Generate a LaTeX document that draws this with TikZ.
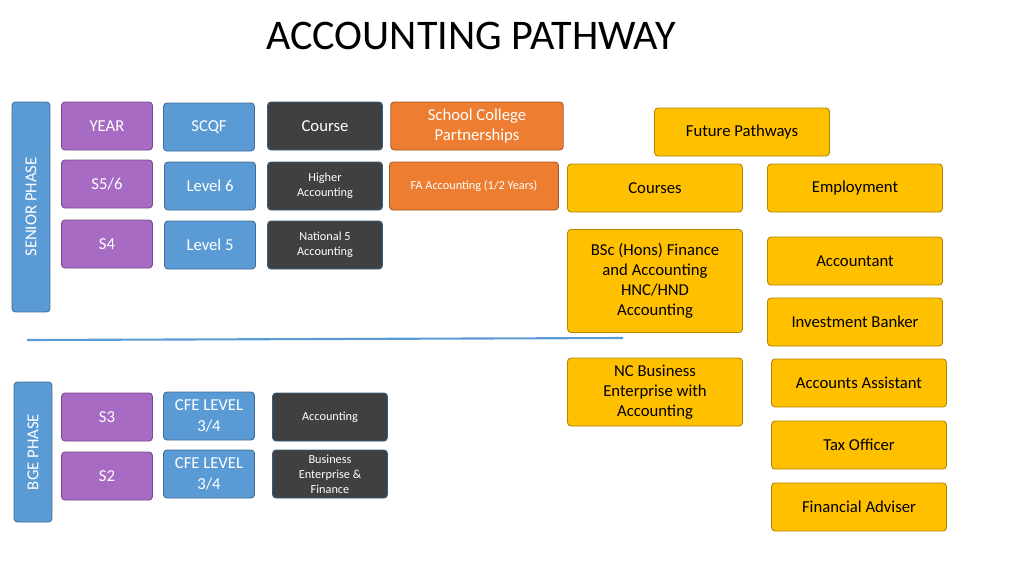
\documentclass[tikz,border=0pt]{standalone}
\usepackage{fontspec}
\setmainfont{Carlito}
\definecolor{phaseblue}{HTML}{5B9BD5}
\definecolor{yearpurple}{HTML}{A86BC4}
\definecolor{coursegrey}{HTML}{404040}
\definecolor{partorange}{HTML}{ED7D31}
\definecolor{pathgold}{HTML}{FFC000}
\tikzset{
  box/.style={draw, rounded corners=2pt, line width=0.5pt, align=center, inner sep=1pt, font=\fontsize{9.5}{11.5}\selectfont},
  phase/.style={box, fill=phaseblue, draw=phaseblue!70!black, text=white, minimum height=0.76cm},
  yearbox/.style={box, fill=yearpurple, draw=yearpurple!70!black, text=white, minimum width=1.82cm, minimum height=0.96cm},
  scqfbox/.style={box, fill=phaseblue, draw=phaseblue!70!black, text=white, minimum width=1.82cm, minimum height=0.96cm},
  coursebox/.style={box, fill=coursegrey, draw=phaseblue!60!black, text=white, minimum width=2.3cm, minimum height=0.96cm},
  partbox/.style={box, fill=partorange, draw=partorange!70!black, text=white, minimum width=3.45cm, minimum height=0.96cm},
  pathbox/.style={box, fill=pathgold, draw=pathgold!70!black, text=black, minimum width=3.5cm, minimum height=0.96cm},
  small/.style={font=\fontsize{7}{8.6}\selectfont}
}
\begin{document}
\begin{tikzpicture}[x=0.02cm,y=-0.02cm]
\useasboundingbox (0,0) rectangle (1024,576);
% title
\node (title) at (471,36) {\fontsize{24}{28}\selectfont ACCOUNTING PATHWAY};
% phases
\node[phase, minimum width=4.2cm, rotate=90] (senior) at (31,207) {SENIOR PHASE};
\node[phase, minimum width=2.8cm, rotate=90] (bge) at (33,452) {BGE PHASE};
\draw[phaseblue, line width=1.2pt] (27,340) -- (623,338);
% headers
\node[yearbox] (year) at (107,126) {YEAR};
\node[scqfbox] (scqf) at (209,127) {SCQF};
\node[coursebox] (course) at (325,126) {Course};
\node[partbox] (partner) at (477,126) {School College\\Partnerships};
\node[pathbox] (future) at (742,132) {Future Pathways};
% senior rows
\node[yearbox] (s56) at (107,184) {S5/6};
\node[scqfbox] (lvl6) at (210,186) {Level 6};
\node[coursebox, small] (higher) at (325,186) {Higher\\Accounting};
\node[partbox, small, minimum width=3.38cm] (fa) at (474,186) {FA Accounting (1/2 Years)};
\node[pathbox] (courses) at (655,188) {Courses};
\node[pathbox] (employ) at (855,188) {Employment};
\node[yearbox] (s4) at (107,244) {S4};
\node[scqfbox] (lvl5) at (210,245) {Level 5};
\node[coursebox, small] (nat5) at (325,245) {National 5\\Accounting};
\node[pathbox, minimum height=2.06cm] (bsc) at (655,281) {BSc (Hons) Finance\\and Accounting\\HNC/HND\\Accounting};
\node[pathbox] (accountant) at (855,261) {Accountant};
\node[pathbox] (banker) at (855,322) {Investment Banker};
\node[pathbox, minimum height=1.36cm] (nc) at (655,392) {NC Business\\Enterprise with\\Accounting};
\node[pathbox] (assistant) at (859,383) {Accounts Assistant};
\node[pathbox] (tax) at (859,445) {Tax Officer};
\node[pathbox] (adviser) at (859,507) {Financial Adviser};
% bge rows
\node[yearbox] (s3) at (107,417) {S3};
\node[scqfbox] (cfe3) at (209,416) {CFE LEVEL\\3/4};
\node[coursebox, small] (acc) at (330,417) {Accounting};
\node[yearbox] (s2) at (107,476) {S2};
\node[scqfbox] (cfe2) at (209,474) {CFE LEVEL\\3/4};
\node[coursebox, small] (bef) at (330,474) {Business\\Enterprise \&\\Finance};
\end{tikzpicture}
\end{document}
